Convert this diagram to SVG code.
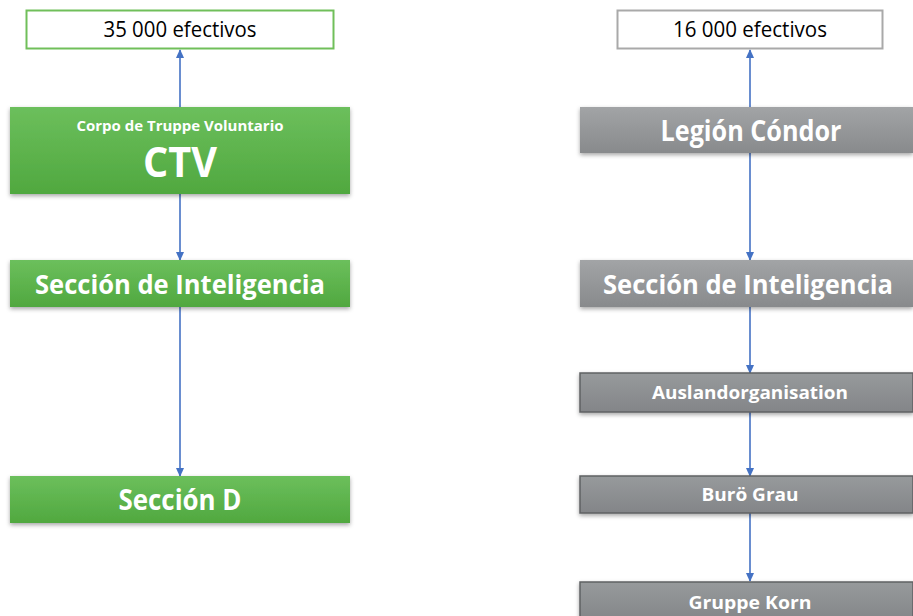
<svg xmlns="http://www.w3.org/2000/svg" width="913" height="616" viewBox="0 0 913 616">
<defs>
<linearGradient id="gGreen" x1="0" y1="0" x2="0" y2="1">
<stop offset="0" stop-color="#6cbf5c"/><stop offset="1" stop-color="#50a83f"/>
</linearGradient>
<linearGradient id="gGray" x1="0" y1="0" x2="0" y2="1">
<stop offset="0" stop-color="#a2a4a6"/><stop offset="1" stop-color="#888a8c"/>
</linearGradient>
<linearGradient id="gDark" x1="0" y1="0" x2="0" y2="1">
<stop offset="0" stop-color="#979a9c"/><stop offset="1" stop-color="#838588"/>
</linearGradient>
<filter id="sh" x="-5%" y="-20%" width="110%" height="150%">
<feDropShadow dx="0" dy="2" stdDeviation="2" flood-color="#000" flood-opacity="0.35"/>
</filter>
<marker id="ah" markerWidth="9" markerHeight="9" refX="8" refY="4.5" orient="auto" markerUnits="userSpaceOnUse">
<path d="M0,0.5 L9,4.5 L0,8.5 z" fill="#4472c4"/>
</marker>
</defs>
<style>
.lbl{font-family:"Open Sans","Noto Sans",sans-serif;fill:#fff;font-weight:bold;text-anchor:middle}
.top{font-family:"Open Sans","Noto Sans",sans-serif;fill:#000;text-anchor:middle;font-size:21px}
.conn{stroke:#4472c4;stroke-width:1.6;fill:none;marker-end:url(#ah)}
.green{fill:url(#gGreen);filter:url(#sh)}
.gray{fill:url(#gGray);filter:url(#sh)}
.dark{fill:url(#gDark);stroke:#5f6163;stroke-width:1.5;filter:url(#sh)}
</style>
<g id="connectors">
<line class="conn" x1="180" y1="107" x2="180" y2="50"/>
<line class="conn" x1="180" y1="194" x2="180" y2="260"/>
<line class="conn" x1="180" y1="307" x2="180" y2="476"/>
<line class="conn" x1="750" y1="107" x2="750" y2="50"/>
<line class="conn" x1="750" y1="153" x2="750" y2="260"/>
<line class="conn" x1="750" y1="307" x2="750" y2="373"/>
<line class="conn" x1="750" y1="412" x2="750" y2="476"/>
<line class="conn" x1="750" y1="513" x2="750" y2="581"/>
</g>
<g id="left-total">
<rect x="26.5" y="10.5" width="307" height="38" fill="#fff" stroke="#70bf5a" stroke-width="2"/>
<text class="top" x="180" y="37" textLength="153" lengthAdjust="spacingAndGlyphs">35 000 efectivos</text>
</g>
<g id="ctv">
<rect class="green" x="10" y="107" width="340" height="87"/>
<text class="lbl" x="180" y="131" font-size="14" textLength="207" lengthAdjust="spacingAndGlyphs">Corpo de Truppe Voluntario</text>
<text class="lbl" x="180" y="177" font-size="41" textLength="74" lengthAdjust="spacingAndGlyphs">CTV</text>
</g>
<g id="left-inteligencia">
<rect class="green" x="10" y="260" width="340" height="47"/>
<text class="lbl" x="180" y="294" font-size="27" textLength="290" lengthAdjust="spacingAndGlyphs">Sección de Inteligencia</text>
</g>
<g id="seccion-d">
<rect class="green" x="10" y="476" width="340" height="47"/>
<text class="lbl" x="180" y="510" font-size="28" textLength="123" lengthAdjust="spacingAndGlyphs">Sección D</text>
</g>
<g id="right-total">
<rect x="617.5" y="10.5" width="265" height="38" fill="#fff" stroke="#a9a9a9" stroke-width="2"/>
<text class="top" x="750" y="37" textLength="154" lengthAdjust="spacingAndGlyphs">16 000 efectivos</text>
</g>
<g id="legion-condor">
<rect class="gray" x="580" y="107" width="333" height="46"/>
<text class="lbl" x="751" y="141" font-size="28" textLength="181" lengthAdjust="spacingAndGlyphs">Legión Cóndor</text>
</g>
<g id="right-inteligencia">
<rect class="gray" x="580" y="260" width="333" height="47"/>
<text class="lbl" x="748" y="294" font-size="27" textLength="290" lengthAdjust="spacingAndGlyphs">Sección de Inteligencia</text>
</g>
<g id="auslandorganisation">
<rect class="dark" x="580" y="373" width="333" height="39"/>
<text class="lbl" x="750" y="399" font-size="18" textLength="196" lengthAdjust="spacingAndGlyphs">Auslandorganisation</text>
</g>
<g id="buro-grau">
<rect class="dark" x="580" y="476" width="333" height="37"/>
<text class="lbl" x="750" y="501" font-size="18" textLength="97" lengthAdjust="spacingAndGlyphs">Burö Grau</text>
</g>
<g id="gruppe-korn">
<rect class="dark" x="580" y="582" width="333" height="40"/>
<text class="lbl" x="750" y="609" font-size="18" textLength="123" lengthAdjust="spacingAndGlyphs">Gruppe Korn</text>
</g>
</svg>
